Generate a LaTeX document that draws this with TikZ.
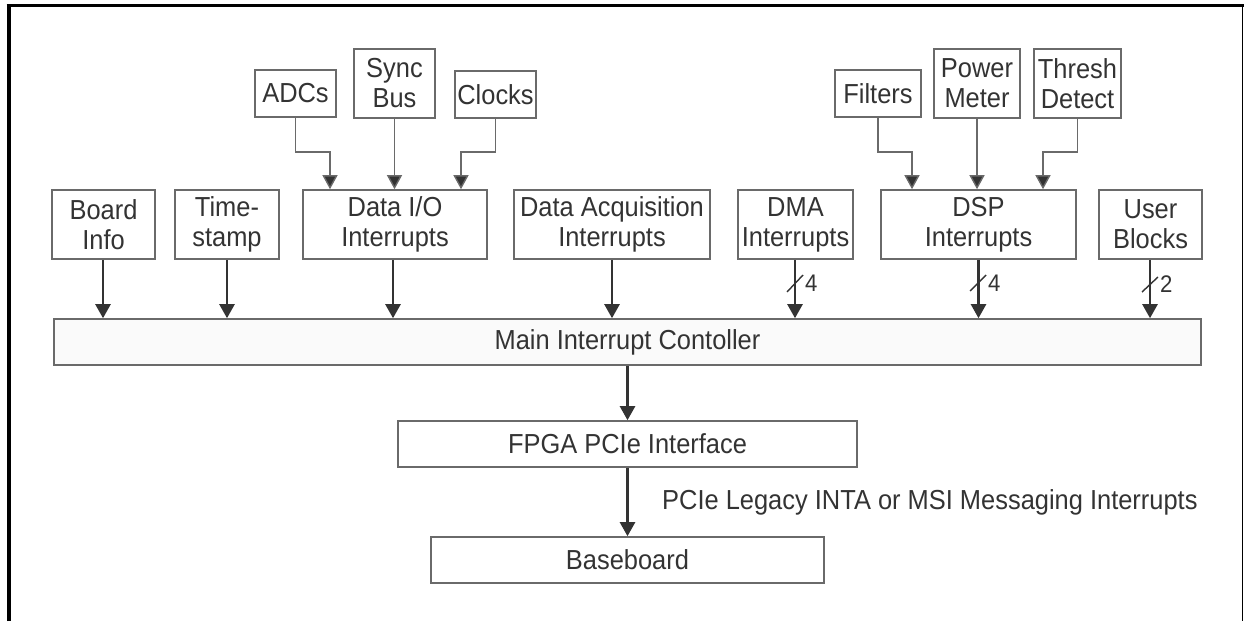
\documentclass[tikz,border=0pt]{standalone}
\usepackage{fontspec}
\setmainfont{Liberation Sans}[FakeStretch=0.925]
\usetikzlibrary{arrows.meta,calc}
\definecolor{txt}{HTML}{333333}
\definecolor{boxc}{HTML}{6A6A6A}
\definecolor{arrc}{HTML}{333333}
\begin{document}
\begin{tikzpicture}[x=1pt,y=-1pt,
  box/.style={draw=boxc,line width=1.6pt,inner sep=0pt,align=center,text=txt,
    font=\fontsize{27.5}{30}\selectfont},
  bigarr/.style={draw=arrc,line width=2.4pt,-{Triangle[width=15pt,length=14pt]}},
  thinarr/.style={draw=boxc,line width=1.4pt,-{Triangle[width=15pt,length=14pt,fill=arrc]}},
  slash/.style={draw=arrc,line width=1.4pt},
  buslbl/.style={anchor=west,inner sep=0pt,text=txt,font=\fontsize{24}{26}\selectfont},
  lbl/.style={anchor=west,inner sep=0pt,text=txt,font=\fontsize{27.5}{30}\selectfont}]
\useasboundingbox (0,0) rectangle (1244,621);
% frame
\draw[line width=4pt] (8.7,621) -- (8.7,5.7);
\draw[line width=3.5pt] (6.7,5.7) -- (1244,5.7);
\draw[line width=1.5pt] (1242.5,5.7) -- (1242.5,621);
% top small boxes
\node[box,minimum width=81pt,minimum height=47pt] (adc) at (295.5,93.5) {ADCs};
\node[box,minimum width=81pt,minimum height=69pt] (sync) at (394.5,83.5) {Sync\\Bus};
\node[box,minimum width=81pt,minimum height=47pt] (clk) at (495.5,94.5) {Clocks};
\node[box,minimum width=86pt,minimum height=47pt] (filt) at (878,93.5) {Filters};
\node[box,minimum width=86pt,minimum height=69pt] (pow) at (977,83.5) {Power\\Meter};
\node[box,minimum width=87pt,minimum height=69pt] (thr) at (1077.5,83.5) {Thresh\\Detect};
% second row
\node[box,minimum width=103pt,minimum height=69pt] (board) at (103.5,224.5) {Board\\Info};
\node[box,minimum width=104pt,minimum height=69pt] (time) at (227,224.5) {Time-\\stamp};
\node[box,minimum width=184pt,minimum height=69pt] (dataio) at (395,224.5) {Data I/O\\Interrupts};
\node[box,minimum width=196pt,minimum height=69pt] (daq) at (612,224.5) {Data Acquisition\\Interrupts};
\node[box,minimum width=115pt,minimum height=69pt] (dma) at (795.5,224.5) {DMA\\Interrupts};
\node[box,minimum width=195pt,minimum height=69pt] (dsp) at (978.5,224.5) {DSP\\Interrupts};
\node[box,minimum width=103pt,minimum height=69pt] (user) at (1150.5,224.5) {User\\Blocks};
% lower boxes
\node[box,fill=white!98!black,minimum width=1147pt,minimum height=46pt] (main) at (627.5,342) {Main Interrupt Contoller};
\node[box,minimum width=459pt,minimum height=46pt] (fpga) at (627.5,444) {FPGA PCIe Interface};
\node[box,minimum width=393pt,minimum height=46pt] (base) at (627.5,560) {Baseboard};
% thin connectors into Data I/O
\draw[thinarr] (adc.south) -- ++(0,34) -| ([xshift=-65pt]dataio.north);
\draw[thinarr] (sync.south) -- (sync.south |- dataio.north);
\draw[thinarr] (clk.south) -- ++(0,33) -| ([xshift=66pt]dataio.north);
% thin connectors into DSP
\draw[thinarr] (filt.south) -- ++(0,34) -| ([xshift=-66.5pt]dsp.north);
\draw[thinarr] (pow.south) -- (pow.south |- dsp.north);
\draw[thinarr] (thr.south) -- ++(0,33) -| ([xshift=64.5pt]dsp.north);
% into main controller
\draw[bigarr] ([xshift=-0.5pt]board.south) -- ([xshift=-0.5pt]board.south |- main.north);
\draw[bigarr] (time.south) -- (time.south |- main.north);
\draw[bigarr] ([xshift=-2pt]dataio.south) -- ([xshift=-2pt]dataio.south |- main.north);
\draw[bigarr] (daq.south) -- (daq.south |- main.north);
\draw[bigarr] ([xshift=-0.5pt]dma.south) -- ([xshift=-0.5pt]dma.south |- main.north);
\draw[bigarr] (dsp.south) -- (dsp.south |- main.north);
\draw[bigarr] ([xshift=-0.5pt]user.south) -- ([xshift=-0.5pt]user.south |- main.north);
% bus width marks
\coordinate (s1) at (795,283.5);
\draw[slash] ($(s1)+(-8,8.5)$) -- ($(s1)+(8,-8.5)$);
\node[buslbl] (n1) at (805,283.5) {4};
\coordinate (s2) at (978,283);
\draw[slash] ($(s2)+(-8,8)$) -- ($(s2)+(8,-8)$);
\node[buslbl] (n2) at (988,283.5) {4};
\coordinate (s3) at (1150,284.5);
\draw[slash] ($(s3)+(-8,7.5)$) -- ($(s3)+(8,-7.5)$);
\node[buslbl] (n3) at (1160,284.5) {2};
% down chain
\draw[bigarr] (main.south) -- (fpga.north);
\draw[bigarr] (fpga.south) -- (base.north);
\node[lbl] (pcie) at (662,502) {PCIe Legacy INTA or MSI Messaging Interrupts};
\end{tikzpicture}
\end{document}
